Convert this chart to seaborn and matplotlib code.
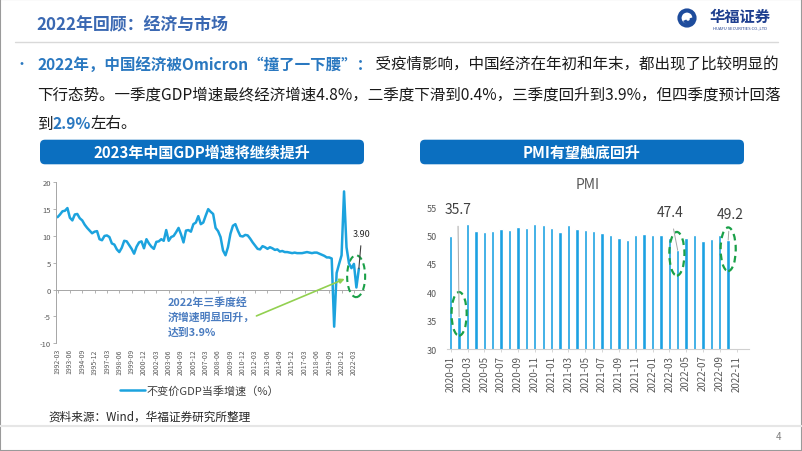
import numpy as np
import pandas as pd
import matplotlib
matplotlib.use("Agg")
import matplotlib.pyplot as plt
import seaborn as sns
from matplotlib.patches import Ellipse, FancyBboxPatch, Rectangle, Circle, Arc
from matplotlib.lines import Line2D

# ---------------- data ----------------
quarters = [f"{y}-{m:02d}" for y in range(1992, 2023) for m in (3, 6, 9, 12)][:123]
gdp = [13.5, 14.0, 14.6, 14.7, 15.2, 13.4, 12.9, 14.0, 14.1, 13.3,
       12.9, 12.1, 11.5, 11.0, 10.5, 10.8, 10.9, 9.4, 9.2, 10.0,
       10.1, 9.8, 8.6, 8.4, 7.5, 7.0, 7.8, 9.1, 9.0, 8.3,
       7.6, 6.7, 8.0, 8.8, 9.0, 7.7, 9.4, 8.6, 8.0, 7.6,
       8.9, 9.0, 9.4, 9.1, 11.1, 9.1, 9.8, 10.0, 10.7, 11.5,
       10.3, 8.8, 11.0, 11.1, 10.8, 12.2, 12.5, 13.7, 12.2, 12.5,
       13.8, 15.0, 14.5, 14.1, 11.5, 10.9, 9.8, 7.3, 6.4, 7.9,
       10.4, 11.9, 12.2, 11.0, 10.0, 9.9, 10.2, 10.1, 9.5, 8.8,
       8.2, 7.6, 7.5, 8.1, 7.9, 7.6, 7.9, 7.7, 7.4, 7.5,
       7.1, 7.2, 7.0, 7.0, 6.9, 6.8, 6.9, 6.8, 6.8, 6.8,
       6.9, 7.0, 6.9, 6.8, 6.9, 6.9, 6.7, 6.5, 6.3, 6.0,
       6.0, 5.8, -6.9, 3.1, 4.8, 6.4, 18.3, 7.9, 4.9, 4.0,
       4.8, 0.4, 3.9]
gdp_ticklabels = quarters[::5]

pmi_months = [f"{y}-{m:02d}" for y in (2020, 2021, 2022) for m in range(1, 13)]
pmi = [50.0, 35.7, 52.0, 50.8, 50.6, 50.9, 51.1, 51.0, 51.5, 51.4, 52.1, 51.9,
       51.3, 50.6, 51.9, 51.1, 51.0, 50.9, 50.4, 50.1, 49.6, 49.2, 50.1, 50.3,
       50.1, 50.2, 49.5, 47.4, 49.6, 50.2, 49.0, 49.4, 50.1, 49.2]
pmi_ticklabels = pmi_months[::2]
pmi_callouts = {"2020-02": 35.7, "2022-04": 47.4, "2022-10": 49.2}

# ---------------- style ----------------
sns.set_theme(style="white")
plt.rcParams["font.family"] = ["Noto Sans CJK SC", "DejaVu Sans"]
plt.rcParams["axes.unicode_minus"] = False

W, H = 802, 452
fig = plt.figure(figsize=(W / 100, H / 100), dpi=100)
T = fig.dpi_scale_trans


def P(x, y):
    return x / 100, (H - y) / 100


LINE_C = "#1CA3DE"
BAR_C = "#1BA1E2"
BLUE_T = "#2A78C0"
DARK = "#1A1A1A"
GRAY = "#595959"
GREEN = "#1AA048"

# slide frame
fig.patches.append(Rectangle((0, 0), 1, 1, transform=fig.transFigure, fill=False,
                             ec="#9A9A9A", lw=1.5))

# title
fig.text(*P(36, 25), "2022年回顾：经济与市场", transform=T, fontsize=12.2, fontweight="bold",
         color="#3A68B2", va="center", ha="left")
fig.lines.append(Line2D([15 / 100, 778 / 100], [(H - 43) / 100] * 2, transform=T,
                        color="#D9D9D9", lw=1))

# logo
fig.patches.append(Circle(P(687, 19), 0.075, transform=T, fill=False, ec="#1E4C9C", lw=3))
fig.patches.append(Arc(P(688, 20), 0.07, 0.07, theta1=200, theta2=20, transform=T,
                       ec="#1E4C9C", lw=2.5))
fig.text(*P(740, 17), "华福证券", transform=T, fontsize=11, color="#1E3F8F",
         va="center", ha="center", fontweight="bold")
fig.text(*P(740, 28), "HUAFU SECURITIES CO.,LTD", transform=T, fontsize=3,
         color="#1E3F8F", va="center", ha="center")

# paragraph
renderer = fig.canvas.get_renderer()


def draw_segments(x0, y, segs, size):
    x = x0
    for s, c, w in segs:
        t = fig.text(*P(x, y), s, transform=T, color=c, fontsize=size, fontweight=w,
                     va="center", ha="left")
        x += t.get_window_extent(renderer=renderer).width
    return x


PS = 11.2
fig.text(*P(15, 65), "•", transform=T, color=BLUE_T, fontsize=10, va="center", ha="left")
draw_segments(37, 65, [("2022年，中国经济被Omicron“撞了一下腰”：", BLUE_T, "bold"),
                       (" 受疫情影响，中国经济在年初和年末，都出现了比较明显的", DARK, "normal")], PS)
draw_segments(37, 95, [("下行态势。一季度GDP增速最终经济增速4.8%，二季度下滑到0.4%，三季度回升到3.9%，但四季度预计回落",
                        DARK, "normal")], PS)
draw_segments(37, 124, [("到", DARK, "normal"), ("2.9%", BLUE_T, "bold"), ("左右。", DARK, "normal")], PS)

# banners
for (x0, x1, label) in [(40, 364, "2023年中国GDP增速将继续提升"), (420, 744, "PMI有望触底回升")]:
    fig.patches.append(FancyBboxPatch(P(x0, 165.3), (x1 - x0) / 100, 0.246,
                                      boxstyle="round,pad=0,rounding_size=0.05",
                                      transform=T, fc="#0B6FC0", ec="none"))
    fig.text(*P((x0 + x1) / 2, 153), label, transform=T, color="white", fontsize=10.8,
             fontweight="bold", va="center", ha="center")

# ---------------- GDP chart ----------------
ax1 = fig.add_axes([56.3 / W, 1 - 344.3 / H, (363.8 - 56.3) / W, (344.3 - 183.3) / H])
df_gdp = pd.DataFrame({"pos": np.arange(len(gdp)), "quarter": quarters, "gdp": gdp})
sns.lineplot(data=df_gdp, x="pos", y="gdp", ax=ax1, color=LINE_C, lw=1.8,
             label="不变价GDP当季增速（%）")
ax1.set_xlim(-0.5, 124)
ax1.set_ylim(-10, 20)
ax1.set_yticks(range(-10, 21, 5))
ax1.set_xticks(range(0, len(gdp), 5))
ax1.set_xticklabels(gdp_ticklabels, rotation=90, fontsize=5, color=GRAY)
ax1.tick_params(axis="x", length=0, pad=3.5)
ax1.tick_params(axis="y", left=True, length=2.5, width=0.6, color="#A6A6A6",
                labelsize=5.5, labelcolor=GRAY, pad=1.5)
ax1.set_xlabel("")
ax1.set_ylabel("")
for s in ("top", "right", "bottom"):
    ax1.spines[s].set_visible(False)
ax1.spines["left"].set_color("#A6A6A6")
ax1.spines["left"].set_linewidth(0.7)
sec = ax1.secondary_xaxis(1 / 3)
sec.set_xticks(range(0, len(gdp), 5))
sec.set_xticklabels([])
sec.tick_params(axis="x", bottom=True, length=2.5, width=0.6, color="#A6A6A6")
sec.spines["bottom"].set_color("#A6A6A6")
sec.spines["bottom"].set_linewidth(0.7)

ax1.legend(loc="center", bbox_to_anchor=P(200, 391), bbox_transform=T, frameon=False,
           fontsize=8, handlelength=2.2, handletextpad=0.2, labelcolor="#404040")

ax1.annotate("3.90", xy=(len(gdp) - 1, gdp[-1]), xytext=(123.2, 10.4), fontsize=6.5,
             color="#262626", ha="center", va="center",
             arrowprops=dict(arrowstyle="-", color="#404040", lw=0.8, shrinkA=3, shrinkB=0))
ax1.add_patch(Ellipse((120.9, 2.5), 7.3, 7.8, fill=False, ec=GREEN, lw=1.5, ls=(0, (3, 2)),
                      clip_on=False))
ax1.annotate("", xy=(117.3, 2.2), xytext=(79.5, -5.1),
             arrowprops=dict(arrowstyle="-|>", color="#92D050", lw=1.2, mutation_scale=7))
ax1.text(44.5, -1.2, "2022年三季度经\n济增速明显回升，\n达到3.9%", fontsize=7.8, color="#4A7CC0",
         ha="left", va="top", linespacing=1.55, fontweight="bold")

# ---------------- PMI chart ----------------
ax2 = fig.add_axes([446.5 / W, 1 - 350 / H, (749.2 - 446.5) / W, (350 - 208.3) / H])
df_pmi = pd.DataFrame({"month": pmi_months[:len(pmi)], "pmi": pmi})
sns.barplot(data=df_pmi, x="month", y="pmi", order=pmi_months, ax=ax2, color=BAR_C,
            width=0.4, saturation=1, errorbar=None)
ax2.set_xlim(-0.5, 35.5)
ax2.set_ylim(30, 55)
ax2.set_yticks(range(30, 56, 5))
ax2.set_xticks(range(0, len(pmi_months), 2))
ax2.set_xticklabels(pmi_ticklabels, rotation=90, fontsize=7, color=GRAY)
ax2.tick_params(axis="x", bottom=True, length=2, width=0.6, color="#D0D0D0", pad=2)
ax2.tick_params(axis="y", length=0, labelsize=6.5, labelcolor=GRAY, pad=7)
ax2.set_xlabel("")
ax2.set_ylabel("")
for s in ("top", "right", "left"):
    ax2.spines[s].set_visible(False)
ax2.spines["bottom"].set_color("#D0D0D0")
ax2.spines["bottom"].set_linewidth(0.8)
fig.text(*P(588, 185), "PMI", transform=T, fontsize=10, color=GRAY, ha="center", va="center")

callout_text_pos = {"2020-02": (0.85, 54.7), "2022-04": (26.1, 54.2), "2022-10": (33.2, 53.8)}
ell_pos = {"2020-02": (1, 36.2, 7.7), "2022-04": (26.9, 46.8, 7.7), "2022-10": (33, 47.6, 7.7)}
for m, v in pmi_callouts.items():
    i = pmi_months.index(m)
    ax2.annotate(f"{v}", xy=(i, v), xytext=callout_text_pos[m], fontsize=10, color="#404040",
                 ha="center", va="center",
                 arrowprops=dict(arrowstyle="-", color="#A6A6A6", lw=0.7, shrinkA=5, shrinkB=0),
                 annotation_clip=False)
    cx, cy, hh = ell_pos[m]
    ax2.add_patch(Ellipse((cx, cy), 1.8, hh, fill=False, ec=GREEN, lw=1.6, ls=(0, (3, 2)),
                          clip_on=False))

# footer
fig.text(*P(48, 417), "资料来源：Wind，华福证券研究所整理", transform=T, fontsize=8.4,
         color="#262626", style="italic", va="center", ha="left")
fig.lines.append(Line2D([0, W / 100], [(H - 427) / 100] * 2, transform=T, color="#E6E6E6", lw=1.5))
fig.text(*P(778, 437), "4", transform=T, fontsize=7, color="#7F7F7F", va="center", ha="center")

fig.savefig("out.png", dpi=100)
